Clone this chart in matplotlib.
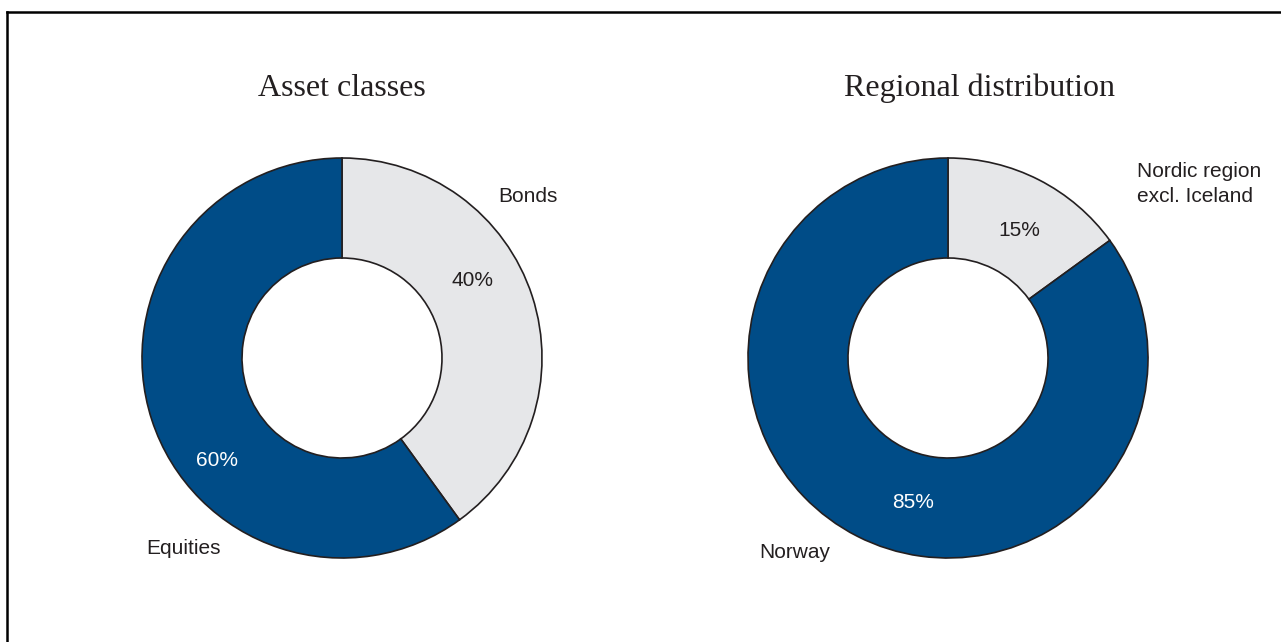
import matplotlib.pyplot as plt
from matplotlib.lines import Line2D

# portfolio split
asset_labels = ["Bonds", "Equities"]
asset_shares = [40, 60]
region_labels = ["Nordic region\nexcl. Iceland", "Norway"]
region_shares = [15, 85]

BLUE = "#004C87"
GREY = "#E6E7E9"
EDGE = "#231F20"

W, H = 1281, 642
fig = plt.figure(figsize=(W / 100, H / 100), dpi=100)
fig.patch.set_facecolor("white")


def donut_axes(cx, cy, r=200):
    # axes sized so the outer radius is r pixels, centred at (cx, cy) from top-left
    half = 1.1 * r
    ax = fig.add_axes([(cx - half) / W, (H - cy - half) / H, 2 * half / W, 2 * half / H])
    ax.set_xlim(-1.1, 1.1)
    ax.set_ylim(-1.1, 1.1)
    ax.set_aspect("equal")
    ax.axis("off")
    return ax


def draw_donut(ax, shares, colors):
    ax.pie(shares, colors=colors, startangle=90, counterclock=False, radius=1.0,
           wedgeprops=dict(width=0.5, edgecolor=EDGE, linewidth=1.2))
    ax.set_xlim(-1.1, 1.1)
    ax.set_ylim(-1.1, 1.1)


lab = dict(fontsize=15, family="Liberation Sans", color=EDGE)
inside = dict(fontsize=15, family="Liberation Sans", color="white")

# left: asset classes
ax1 = donut_axes(342, 358)
draw_donut(ax1, asset_shares, [GREY, BLUE])
ax1.text(0.93, 0.805, asset_labels[0], ha="center", va="center", **lab)
ax1.text(0.655, 0.385, f"{asset_shares[0]}%", ha="center", va="center", **lab)
ax1.text(-0.625, -0.51, f"{asset_shares[1]}%", ha="center", va="center", **inside)
ax1.text(-0.795, -0.955, asset_labels[1], ha="center", va="center", **lab)

# right: regional distribution
ax2 = donut_axes(948, 358)
draw_donut(ax2, region_shares, [GREY, BLUE])
ax2.text(0.945, 0.87, region_labels[0], ha="left", va="center", linespacing=1.45, **lab)
ax2.text(0.355, 0.635, f"{region_shares[0]}%", ha="center", va="center", **lab)
ax2.text(-0.175, -0.725, f"{region_shares[1]}%", ha="center", va="center", **inside)
ax2.text(-0.765, -0.975, region_labels[1], ha="center", va="center", **lab)

# titles
ttl = dict(fontsize=23, family="Liberation Serif", color=EDGE, ha="center", va="center")
fig.text(342 / W, 1 - 88 / H, "Asset classes", **ttl)
fig.text(980 / W, 1 - 88 / H, "Regional distribution", **ttl)

# frame lines along top and left edge
fig.add_artist(Line2D([7 / W, 1], [1 - 12 / H, 1 - 12 / H], color="black", linewidth=1.8))
fig.add_artist(Line2D([7 / W, 7 / W], [0, 1 - 12 / H], color="black", linewidth=1.8))

fig.savefig("out.png", dpi=100, facecolor="white")
